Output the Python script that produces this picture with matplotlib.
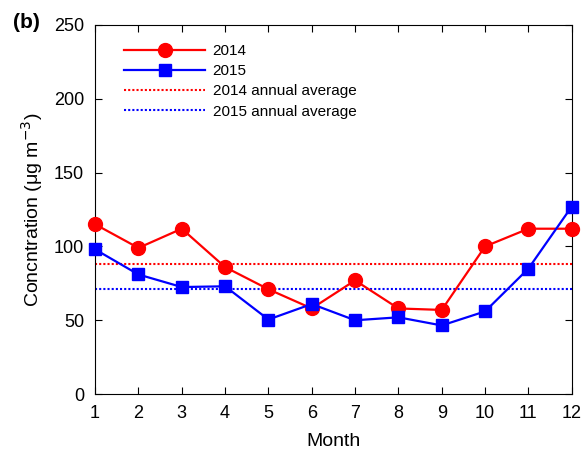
import numpy as np
import matplotlib.pyplot as plt

plt.rcParams['font.family'] = ['Liberation Sans', 'DejaVu Sans']

monate = np.arange(1, 13)
werte_2014 = [115, 99, 112, 86, 71, 58, 77, 58, 57, 100, 112, 112]
werte_2015 = [98, 81, 72.5, 73, 50.5, 61, 50, 52, 46.5, 56, 85, 127]
mittel_2014 = np.mean(werte_2014)
mittel_2015 = np.mean(werte_2015)

fig = plt.figure(figsize=(5.87, 4.53), dpi=100)
ax = fig.add_axes([0.162, 0.130, 0.812, 0.815])

ax.plot(monate, werte_2014, color='red', lw=1.6, marker='o', ms=10, label='2014', clip_on=False, zorder=3)
ax.plot(monate, werte_2015, color='blue', lw=1.6, marker='s', ms=8.5, label='2015', clip_on=False, zorder=3)
ax.axhline(mittel_2014, color='red', lw=1.5, ls=(0, (1, 1)), label='2014 annual average')
ax.axhline(mittel_2015, color='blue', lw=1.5, ls=(0, (1, 1)), label='2015 annual average')

ax.set_xlim(1, 12)
ax.set_ylim(0, 250)
ax.set_xticks(monate)
ax.set_yticks(np.arange(0, 251, 50))
ax.tick_params(direction='in', top=True, right=True, labelsize=13, length=5, width=0.8)
ax.tick_params(axis='x', pad=8)
ax.tick_params(axis='y', pad=8)
for s in ax.spines.values():
    s.set_linewidth(0.8)
ax.set_xlabel('Month', fontsize=14, labelpad=8)
ax.set_ylabel('Concntration (μg m$^{-3}$)', fontsize=14, labelpad=6)

ax.legend(loc='upper left', frameon=False, fontsize=11, handlelength=5.3,
          labelspacing=0.4, handletextpad=0.5, bbox_to_anchor=(0.032, 0.985))

fig.text(0.022, 0.938, '(b)', fontsize=15, fontweight='bold')

fig.savefig('out.png', dpi=100)
